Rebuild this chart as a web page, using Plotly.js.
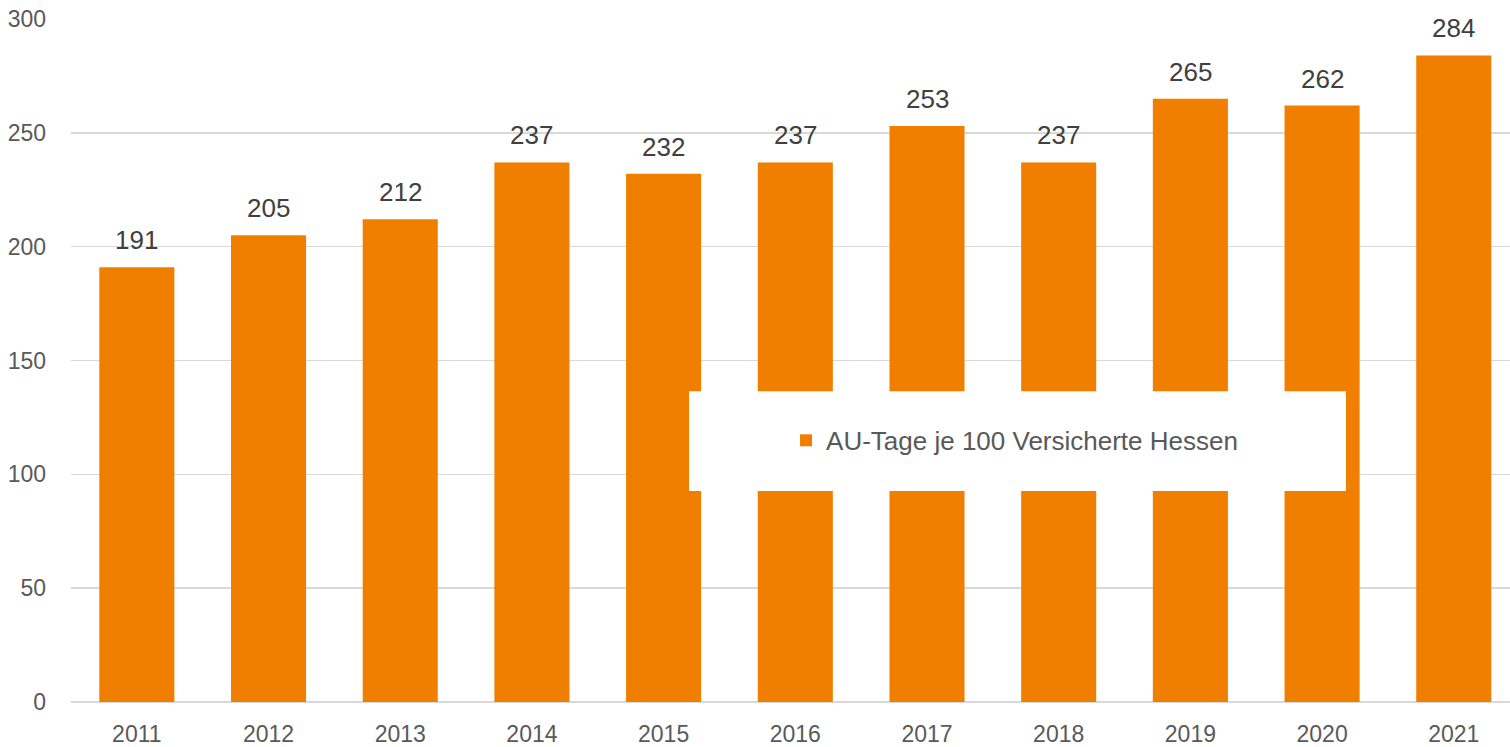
<!DOCTYPE html>
<html>
<head>
<meta charset="utf-8">
<script src="https://cdn.plot.ly/plotly-3.0.1.min.js"></script>
<style>html,body{margin:0;padding:0;background:#fff;overflow:hidden;}</style>
</head>
<body>
<div id="chart" style="width:1510px;height:747px;"></div>
<script>
const years = ["2011","2012","2013","2014","2015","2016","2017","2018","2019","2020","2021"];
const auTage = [191, 205, 212, 237, 232, 237, 253, 237, 265, 262, 284];
const seriesName = "AU-Tage je 100 Versicherte Hessen";
const yTicks = [0, 50, 100, 150, 200, 250, 300];

const FONT = '"Liberation Sans", Arial, sans-serif';
const ORANGE = '#F07F00';

const trace = {
  type: 'bar',
  x: years,
  y: auTage,
  name: seriesName,
  marker: {color: ORANGE, line: {width: 0}},
  hoverinfo: 'x+y',
  showlegend: true
};

const annotations = years.map((yr, i) => ({
  x: i, y: auTage[i], xref: 'x', yref: 'y',
  text: String(auTage[i]), showarrow: false,
  xanchor: 'center', yanchor: 'bottom', yshift: 10,
  font: {family: FONT, size: 26, color: '#404040'}
}));

const layout = {
  width: 1510, height: 747,
  margin: {l: 71, r: 0, t: 19, b: 45, pad: 0},
  paper_bgcolor: '#fff', plot_bgcolor: '#fff',
  bargap: 0.43,
  font: {family: FONT, size: 23, color: '#595959'},
  xaxis: {
    type: 'category',
    range: [-0.5, 10.427],
    showgrid: false,
    showline: false,
    zeroline: false,
    ticks: '',
    ticklabelstandoff: 16,
    tickfont: {family: FONT, size: 23, color: '#595959'},
    fixedrange: true
  },
  yaxis: {
    range: [0, 300],
    tickvals: yTicks,
    ticktext: yTicks.map(String),
    showgrid: true,
    gridcolor: '#D9D9D9',
    gridwidth: 1.5,
    zeroline: true,
    zerolinecolor: '#D9D9D9',
    zerolinewidth: 1.5,
    showline: false,
    ticks: '',
    ticklabelstandoff: 24,
    tickfont: {family: FONT, size: 23, color: '#595959'},
    fixedrange: true
  },
  showlegend: true,
  legend: {
    x: 0.4969, y: 0.383, xanchor: 'left', yanchor: 'middle',
    bgcolor: 'rgba(0,0,0,0)', borderwidth: 0,
    font: {family: FONT, size: 26, color: '#595959'}
  },
  shapes: [{
    type: 'rect', xref: 'paper', yref: 'paper',
    x0: 0.4295, x1: 0.886, y0: 0.309, y1: 0.455,
    fillcolor: '#FFFFFF', line: {width: 0}, layer: 'above'
  }],
  annotations: annotations
};

Plotly.newPlot('chart', [trace], layout, {displayModeBar: false, staticPlot: true});
</script>
</body>
</html>
